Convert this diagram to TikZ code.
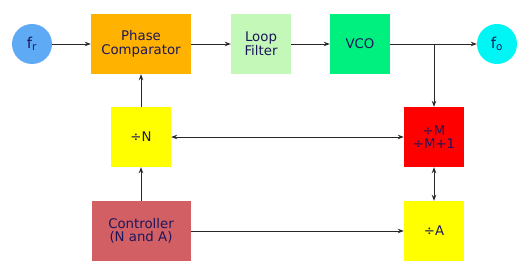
\documentclass[tikz,border=0pt]{standalone}
\usepackage{fontspec}
\setmainfont{DejaVu Sans}
\usetikzlibrary{arrows.meta}
\definecolor{txt}{RGB}{28,22,90}
\definecolor{cfr}{RGB}{95,170,245}
\definecolor{cpc}{RGB}{255,178,0}
\definecolor{clf}{RGB}{195,248,185}
\definecolor{cvco}{RGB}{0,240,128}
\definecolor{cfo}{RGB}{0,245,245}
\definecolor{cyel}{RGB}{255,255,0}
\definecolor{cred}{RGB}{255,0,0}
\definecolor{cctl}{RGB}{210,95,100}
\definecolor{ln}{RGB}{40,40,40}
\tikzset{
  x=1pt,y=-1pt,
  blk/.style={draw=none,minimum width=#1,minimum height=60pt,inner sep=0pt,align=center,text=txt,font=\fontsize{13.3}{13.5}\selectfont},
  blk/.default=60pt,
  circ/.style={circle,draw=none,minimum size=40pt,inner sep=0pt,text=txt,font=\fontsize{15}{15}\selectfont},
  conn/.style={draw=ln,line width=0.9pt,-{Stealth[length=6pt,width=4.5pt]}},
  conn2/.style={draw=ln,line width=0.9pt,{Stealth[length=6pt,width=4.5pt]}-{Stealth[length=6pt,width=4.5pt]}}
}
\begin{document}
\begin{tikzpicture}
\useasboundingbox (0,0) rectangle (530,280);
\node[circ,fill=cfr] (fr) at (32,44) {f\textsubscript{r}};
\node[blk=100pt,fill=cpc] (pc) at (141,44) {Phase\\Comparator};
\node[blk,fill=clf] (lf) at (261,44) {Loop\\Filter};
\node[blk,fill=cvco] (vco) at (360,44) {VCO};
\node[circ,fill=cfo] (fo) at (497,44) {f\textsubscript{o}};
\node[blk,fill=cyel] (dn) at (141,137) {÷N};
\node[blk,fill=cred] (dm) at (434,137) {÷M\\÷M+1};
\node[blk=99pt,fill=cctl] (ctl) at (141,231) {Controller\\(N and A)};
\node[blk,fill=cyel] (da) at (434,231) {÷A};
\coordinate (br) at (434,44);
\draw[conn] (fr) -- (pc);
\draw[conn] (pc) -- (lf);
\draw[conn] (lf) -- (vco);
\draw[conn] (vco) -- (fo);
\draw[conn] (br) -- (dm);
\draw[conn] (dn) -- (pc);
\draw[conn] (ctl) -- (dn);
\draw[conn2] (dn) -- (dm);
\draw[conn2] (dm) -- (da);
\draw[conn] (ctl) -- (da);
\end{tikzpicture}
\end{document}
